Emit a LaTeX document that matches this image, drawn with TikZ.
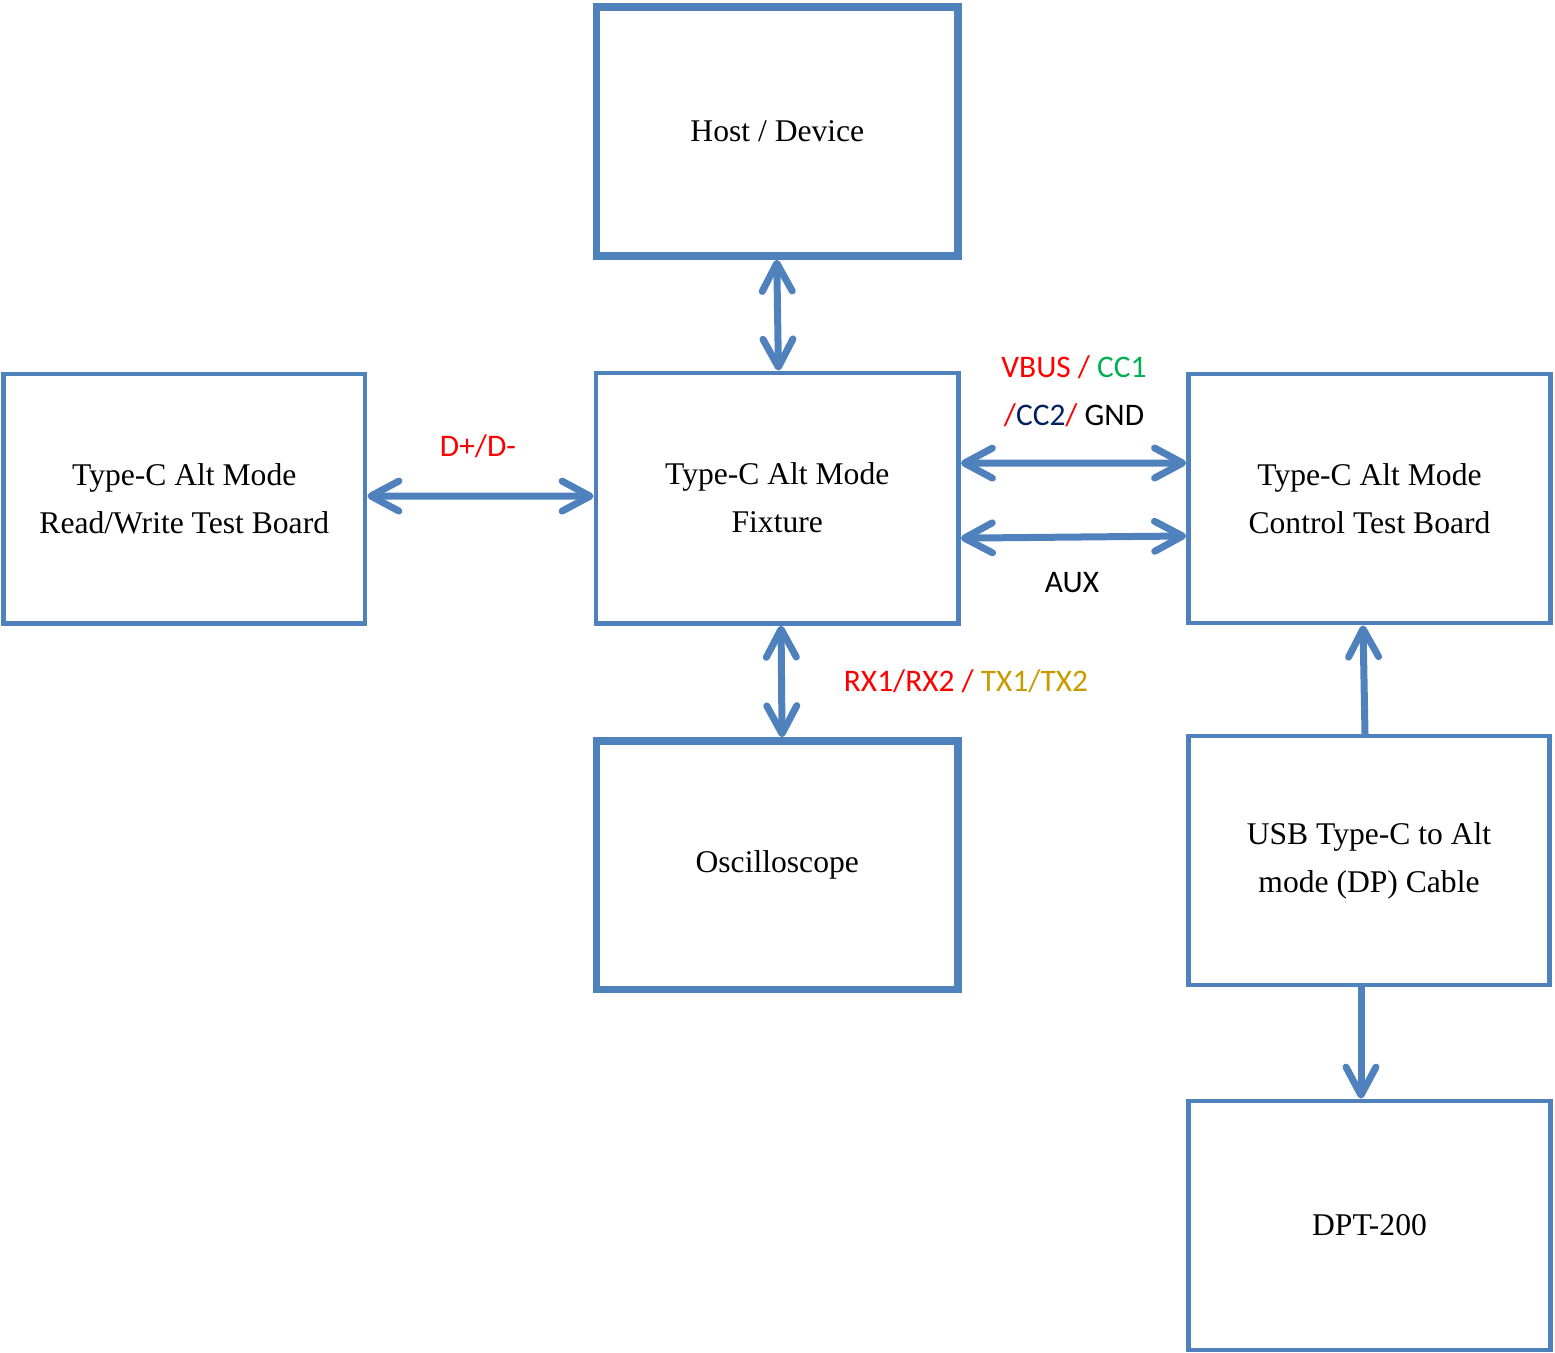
\documentclass[tikz,border=0pt]{standalone}
\usepackage{fontspec}
\setmainfont{Liberation Serif}
\newfontfamily\labelfont{Carlito}
\usetikzlibrary{arrows.meta}
\definecolor{boxblue}{HTML}{4F81BD}
\definecolor{sigred}{HTML}{FF0000}
\definecolor{siggreen}{HTML}{00B050}
\definecolor{signavy}{HTML}{002060}
\definecolor{siggold}{HTML}{C89B00}
\begin{document}
\begin{tikzpicture}[x=0.5pt, y=-0.5pt,
  blk/.style={draw=boxblue, line width=2.4pt, rectangle, align=center,
    font=\fontsize{15.8pt}{24pt}\selectfont, inner sep=0pt},
  heavy/.style={blk, line width=3.75pt},
  link/.style={draw=boxblue, line width=3.5pt, line cap=round},
  barb/.tip={Straight Barb[length=14pt, width=15pt, line cap=round, line join=round]},
  tipA/.style={-barb},
  tipB/.style={barb-barb},
  sig/.style={font=\labelfont\fontsize{15.7pt}{24pt}\selectfont, align=center, inner sep=0pt}]
  \useasboundingbox (0,0) rectangle (1555,1353);

  % blocks
  \node[heavy, minimum width=180.65pt, minimum height=124.5pt] (host) at (777.35,131.5) {Host / Device};
  \node[blk, minimum width=181.25pt, minimum height=125.15pt] (fix) at (777.25,498.15) {Type-C Alt Mode\\Fixture};
  \node[blk, minimum width=180.75pt, minimum height=124.65pt] (rw) at (184.25,498.65) {Type-C Alt Mode\\Read/Write Test Board};
  \node[blk, minimum width=181pt, minimum height=124.5pt] (ctl) at (1369.5,498.5) {Type-C Alt Mode\\Control Test Board};
  \node[heavy, minimum width=180.75pt, minimum height=124.25pt] (osc) at (777.25,865.25) {Oscilloscope};
  \node[blk, minimum width=180.5pt, minimum height=124.5pt] (cable) at (1369,860.5) {USB Type-C to Alt\\mode (DP) Cable};
  \node[blk, minimum width=181pt, minimum height=124.5pt] (dpt) at (1369.5,1225.5) {DPT-200};

  % connections
  \draw[link, tipB] ([xshift=-0.3pt]host.south) -- ([xshift=0.6pt]fix.north);
  \draw[link, tipB] ([yshift=1.3pt]rw.east) -- ([yshift=1pt]fix.west);
  \draw[link, tipB] ([yshift=17.5pt]fix.east) -- ([yshift=17.75pt]ctl.west);
  \draw[link, tipB] ([yshift=-20pt]fix.east) -- ([yshift=-18.75pt]ctl.west);
  \draw[link, tipB] ([xshift=1.9pt]fix.south) -- ([xshift=2.4pt]osc.north);
  \draw[link, tipA] ([xshift=-2pt]cable.north) -- ([xshift=-3.25pt]ctl.south);
  \draw[link, tipA] ([xshift=-4pt]cable.south) -- ([xshift=-4.25pt]dpt.north);

  % signal labels
  \node[sig, text=sigred] (ldd) at (478,446) {D+/D-};
  \node[sig] (lpow) at (1074,391) {\textcolor{sigred}{VBUS /} \textcolor{siggreen}{CC1}\\
    \textcolor{sigred}{/}\textcolor{signavy}{CC2}\textcolor{sigred}{/} GND};
  \node[sig] (laux) at (1072,583) {AUX};
  \node[sig] (lhs) at (966,681) {\textcolor{sigred}{RX1/RX2 /} \textcolor{siggold}{TX1/TX2}};
\end{tikzpicture}
\end{document}
